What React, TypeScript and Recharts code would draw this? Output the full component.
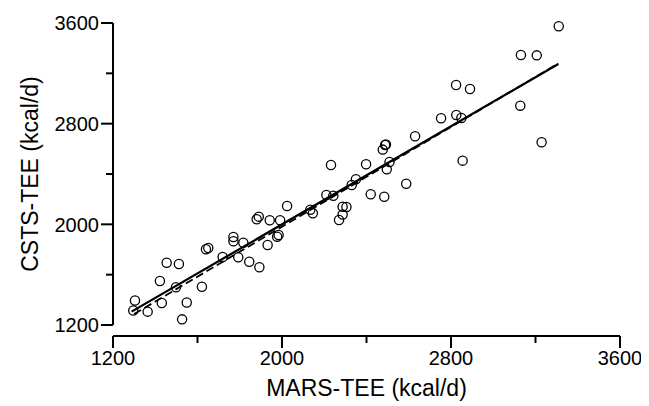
import { ScatterChart, Scatter, XAxis, YAxis, Label } from "recharts";

// MARS-TEE (x) and CSTS-TEE (y), kcal/d
const marsTee = [
  1296, 1304, 1364, 1431, 1422, 1454, 1512, 1498, 1549, 1527,
  1621, 1640, 1651, 1719, 1770, 1770, 1817, 1793, 1845, 1893,
  1880, 1890, 1942, 1991, 2024, 1977, 1984, 1932, 2134, 2146,
  2210, 2243, 2287, 2305, 2287, 2270, 2330, 2350, 2398, 2232,
  2420, 2484, 2477, 2488, 2492, 2509, 2496, 2588, 2630, 2753,
  2825, 2849, 2855, 2824, 2890, 3128, 3131, 3206, 3310, 3229,
];
const cstsTee = [
  1315, 1395, 1306, 1375, 1550, 1695, 1685, 1500, 1379, 1245,
  1504, 1802, 1812, 1740, 1899, 1866, 1854, 1738, 1703, 1659,
  2040, 2061, 2032, 2032, 2146, 1902, 1915, 1836, 2116, 2088,
  2233, 2227, 2140, 2138, 2078, 2034, 2313, 2358, 2477, 2472,
  2239, 2219, 2594, 2630, 2634, 2495, 2437, 2323, 2700, 2843,
  2869, 2845, 2506, 3107, 3075, 2943, 3346, 3343, 3574, 2652,
];

// end points of the fitted (solid) and the dashed line
const fitX = [1288, 3308];
const fitY = [1306, 3274];
const dashX = [1300, 3308];
const dashY = [1287, 3278];

const axisTicks = [1200, 1600, 2000, 2400, 2800, 3200, 3600];
const labelledTicks = [1200, 2000, 2800, 3600];

const points = marsTee.map((x, i) => ({ x, y: cstsTee[i] }));
const fitLine = fitX.map((x, i) => ({ x, y: fitY[i] }));
const dashLine = dashX.map((x, i) => ({ x, y: dashY[i] }));

const FONT = "'Liberation Sans', Arial, Helvetica, sans-serif";
const PLOT_LEFT = 105;
const PLOT_BOTTOM = 328;

const YTick = (props: any) => {
  const { y, payload } = props;
  const major = labelledTicks.includes(payload.value);
  const len = major ? 12 : 7;
  return (
    <g>
      <line x1={PLOT_LEFT - len} x2={PLOT_LEFT} y1={y} y2={y} stroke="#000" strokeWidth={2} />
      {major && (
        <text x={PLOT_LEFT - len - 2} y={y} dy="0.36em" textAnchor="end" fontSize={20} fontFamily={FONT} fill="#000">
          {payload.value}
        </text>
      )}
    </g>
  );
};

const XTick = (props: any) => {
  const { x, payload } = props;
  const major = labelledTicks.includes(payload.value);
  const len = major ? 12 : 7;
  return (
    <g>
      <line x1={x} x2={x} y1={PLOT_BOTTOM} y2={PLOT_BOTTOM + len} stroke="#000" strokeWidth={2} />
      {major && (
        <text x={x} y={PLOT_BOTTOM + 29} textAnchor="middle" fontSize={20} fontFamily={FONT} fill="#000">
          {payload.value}
        </text>
      )}
    </g>
  );
};

const OpenCircle = (props: any) => (
  <circle cx={props.cx} cy={props.cy} r={4.6} fill="none" stroke="#000" strokeWidth={1.3} />
);

export default function App() {
  return (
    <div style={{ width: 641, height: 398 }}>
      <ScatterChart width={641} height={398} margin={{ top: 15, right: 29, bottom: 0, left: 0 }}>
        <XAxis
          type="number"
          dataKey="x"
          domain={[1200, 3600]}
          ticks={axisTicks}
          interval={0}
          height={70}
          tickLine={false}
          tick={<XTick />}
          axisLine={{ stroke: "#000", strokeWidth: 2 }}
        >
          <Label
            content={() => (
              <text x={PLOT_LEFT + 253.5} y={388} textAnchor="middle" fontSize={23} fontFamily={FONT} fill="#000">
                MARS-TEE (kcal/d)
              </text>
            )}
          />
        </XAxis>
        <YAxis
          type="number"
          dataKey="y"
          domain={[1200, 3600]}
          ticks={axisTicks}
          interval={0}
          width={PLOT_LEFT}
          padding={{ bottom: 11 }}
          tickLine={false}
          tick={<YTick />}
          axisLine={{ stroke: "#000", strokeWidth: 2, strokeDasharray: "302 40" }}
        >
          <Label
            content={() => (
              <text
                x={22}
                y={166}
                textAnchor="middle"
                dominantBaseline="central"
                transform="rotate(-90 22 166)"
                fontSize={23}
                fontFamily={FONT}
                fill="#000"
              >
                CSTS-TEE (kcal/d)
              </text>
            )}
          />
        </YAxis>
        <Scatter data={points} shape={<OpenCircle />} isAnimationActive={false} />
        <Scatter
          data={dashLine}
          line={{ stroke: "#000", strokeWidth: 1.8, strokeDasharray: "8 4" }}
          shape={() => <g />}
          isAnimationActive={false}
        />
        <Scatter
          data={fitLine}
          line={{ stroke: "#000", strokeWidth: 2.2 }}
          shape={() => <g />}
          isAnimationActive={false}
        />
      </ScatterChart>
    </div>
  );
}
